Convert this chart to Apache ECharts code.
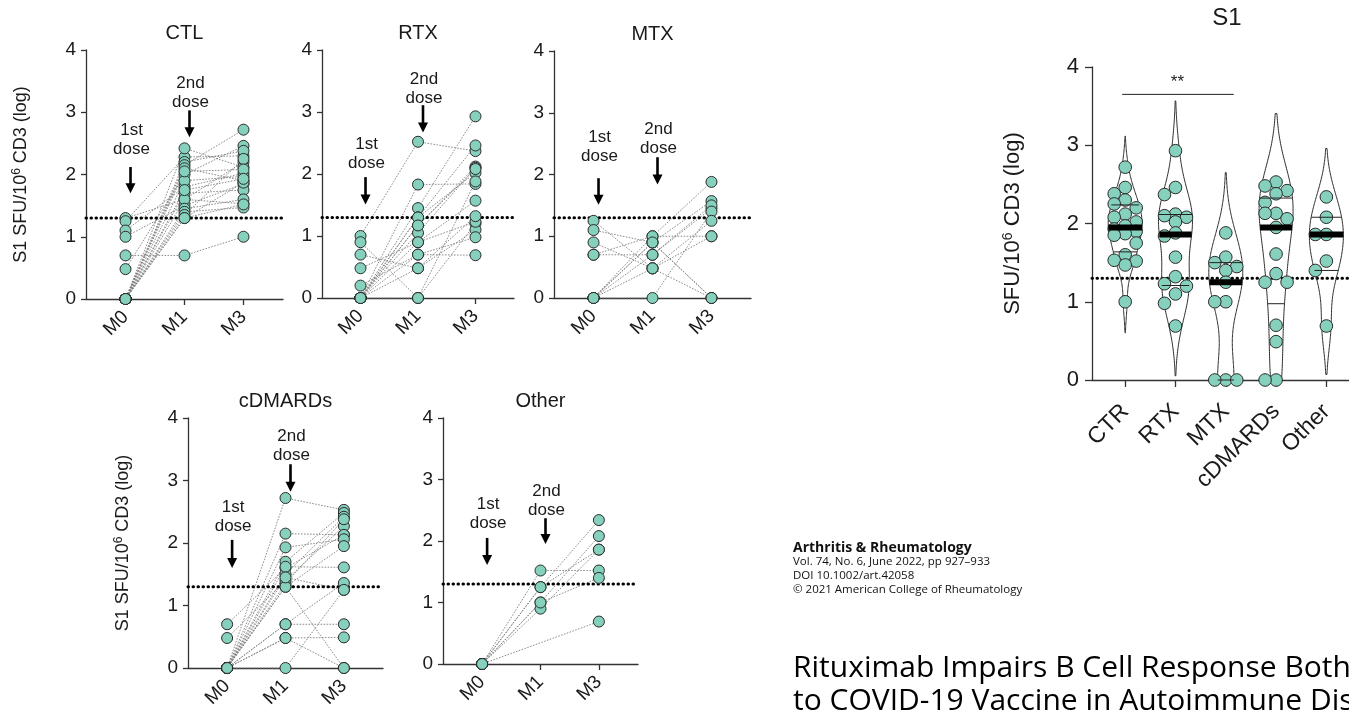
<!DOCTYPE html>
<html>
<head>
<meta charset="utf-8">
<title>S1 SFU/10^6 CD3</title>
<script src="https://cdn.jsdelivr.net/npm/echarts@6/dist/echarts.min.js"></script>
<style>
  html, body { margin: 0; padding: 0; background: #ffffff; }
  #chart { width: 1349px; height: 713px; }
</style>
</head>
<body>
<div id="chart"></div>
<script>
// ---- data: log10 S1 spot-forming units per 10^6 CD3 cells, one entry per subject ----
const timepoints = ['M0', 'M1', 'M3'];
const yTicks = [0, 1, 2, 3, 4];
const threshold = 1.3;

const ctlM0 = [1.3, 1.25, 1.1, 1.0, 0.7, 0.48, 0, 0, 0, 0, 0, 0, 0, 0, 0, 0, 0, 0, 0, 0];
const ctlM1 = [1.6, 2.28, 1.8, 1.5, 0.7, 2.0, 2.42, 2.2, 2.15, 2.1, 1.9, 1.7, 1.6, 1.45, 1.4, 1.35, 1.3, 1.3, 2.05, 1.75];
const ctlM3 = [2.2, 2.3, 2.02, 1.85, 1.0, 2.46, 2.12, 2.38, 2.72, 1.9, 1.97, 1.75, 1.53, 1.6, 1.47, 2.25, 1.87, 1.52, 2.08, 1.93];

const rtxM0 = [0, 1.0, 0.9, 0.7, 0.48, 0.2, 0, 0, 0, 0, 0, 0, 0, 0, 0, 0];
const rtxM1 = [1.45, 2.52, 0, 0.48, 0.9, 0.7, 1.83, 1.3, 1.17, 1.05, 0.9, 0.7, 1.3, 0.48, 1.17, 0];
const rtxM3 = [2.93, 2.37, 1.2, 1.1, 1.23, 0.98, 1.84, 2.46, 2.12, 2.1, 1.57, 0.69, 2.02, 1.32, 2.08, 1.88];

const mtxM0 = [1.25, 1.1, 0.9, 0.7, 0, 0, 0, 0, 0, 0.7, 0];
const mtxM1 = [0.48, 0.9, 0.48, 0.7, 1.0, 0.9, 0.7, 0, 0.48, 1.0, 0.9];
const mtxM3 = [0, 0, 1.0, 1.45, 1.88, 1.57, 1.5, 1.4, 1.25, 1.0, 0];

const cdmM0 = [0.7, 0.48, 0, 0, 0, 0, 0, 0, 0, 0, 0, 0, 0, 0, 0, 0, 0];
const cdmM1 = [1.6, 1.4, 2.72, 2.15, 1.93, 1.7, 1.5, 1.35, 1.3, 1.62, 1.3, 0.7, 0.48, 0, 0.7, 1.45, 0.48];
const cdmM3 = [2.13, 2.27, 2.53, 2.13, 2.06, 2.48, 2.42, 2.38, 0, 1.61, 1.95, 0.7, 0.49, 1.25, 1.36, 1.25, 0];

const othM0 = [0, 0, 0, 0, 0, 0, 0];
const othM1 = [1.52, 1.25, 1.0, 0.9, 1.0, 1.25, null];
const othM3 = [1.52, 2.34, 2.08, 1.86, 1.4, 1.86, 0.69];

// dose annotations: [timepoint index, label centre, arrow start, arrow tip]
const doseLabels = ['1st\ndose', '2nd\ndose'];
const ctlDoses = [[0, 2.55, 2.12, 1.70], [1, 3.31, 3.03, 2.60]];
const rtxDoses = [[0, 2.33, 1.95, 1.51], [1, 3.38, 3.11, 2.67]];
const mtxDoses = [[0, 2.45, 1.94, 1.51], [1, 2.57, 2.28, 1.84]];
const cdmDoses = [[0, 2.42, 2.05, 1.60], [1, 3.55, 3.26, 2.82]];
const othDoses = [[0, 2.45, 2.05, 1.61], [1, 2.65, 2.37, 1.95]];

// month-3 responses by treatment group
const violinGroups = ['CTR', 'RTX', 'MTX', 'cDMARDs', 'Other'];
const violinValues = [ctlM3, rtxM3, mtxM3, cdmM3, othM3];
const sigBracket = { from: 0, to: 2, level: 3.65, label: '**' };

// ---- look ----
const TEAL = '#85d1be';
const EDGE = '#2a2a2a';
const AXIS = '#333333';
const TXT = '#1a1a1a';
const FONT = '"Liberation Sans", Arial, sans-serif';

const panels = [
  { name: 'CTL', m0: ctlM0, m1: ctlM1, m3: ctlM3, doses: ctlDoses, left: 86, top: 50, width: 197, height: 249, yName: true },
  { name: 'RTX', m0: rtxM0, m1: rtxM1, m3: rtxM3, doses: rtxDoses, left: 322, top: 50, width: 192, height: 248 },
  { name: 'MTX', m0: mtxM0, m1: mtxM1, m3: mtxM3, doses: mtxDoses, left: 554, top: 51, width: 197, height: 247 },
  { name: 'cDMARDs', m0: cdmM0, m1: cdmM1, m3: cdmM3, doses: cdmDoses, left: 188, top: 418, width: 195, height: 250, yName: true },
  { name: 'Other', m0: othM0, m1: othM1, m3: othM3, doses: othDoses, left: 443, top: 418, width: 195, height: 246 }
];
const X_MIN = -0.67, X_MAX = 2.67;

const option = {
  animation: false,
  backgroundColor: '#ffffff',
  textStyle: { fontFamily: FONT },
  grid: [], xAxis: [], yAxis: [], series: [], graphic: []
};

function textStyle(text, font, align, vAlign, fill) {
  return { text: text, font: font, fill: fill || TXT,
           textAlign: align, textVerticalAlign: vAlign, align: align, verticalAlign: vAlign };
}

// threshold line across a grid
function thresholdSeries(gi, z) {
  return {
    type: 'custom', xAxisIndex: gi, yAxisIndex: gi, z: z, silent: true,
    data: [[0, threshold]],
    renderItem: function (params, api) {
      const cs = params.coordSys;
      const y = api.coord([0, threshold])[1];
      return { type: 'line', shape: { x1: cs.x, y1: y, x2: cs.x + cs.width, y2: y },
               style: { stroke: '#000', lineWidth: 3, lineDash: [0.5, 4.5], lineCap: 'round' } };
    }
  };
}

panels.forEach(function (p, gi) {
  option.grid.push({ left: p.left, top: p.top, width: p.width, height: p.height, containLabel: false });
  option.xAxis.push({
    type: 'value', gridIndex: gi, min: X_MIN, max: X_MAX,
    axisLine: { show: true, onZero: false, lineStyle: { color: AXIS, width: 1.3 } },
    axisTick: { show: true, customValues: [0, 1, 2], length: 6, lineStyle: { color: AXIS, width: 1.3 } },
    axisLabel: { customValues: [0, 1, 2], formatter: function (v) { return timepoints[Math.round(v)]; },
                 rotate: 45, fontSize: 19, color: TXT, margin: 15, fontFamily: FONT },
    splitLine: { show: false }
  });
  option.yAxis.push({
    type: 'value', gridIndex: gi, min: 0, max: 4, interval: 1,
    axisLine: { show: true, onZero: false, lineStyle: { color: AXIS, width: 1.3 } },
    axisTick: { show: true, length: 5, lineStyle: { color: AXIS, width: 1.3 } },
    axisLabel: { fontSize: 19, color: TXT, margin: 10, fontFamily: FONT,
                 formatter: function (v) { return yTicks.indexOf(v) >= 0 ? String(v) : ''; } },
    splitLine: { show: false },
    name: p.yName ? 'S1 SFU/10{sup|6} CD3 (log)' : '',
    nameLocation: 'middle', nameGap: 55,
    nameTextStyle: { fontSize: 18, color: TXT, fontFamily: FONT,
                     rich: { sup: { fontSize: 12, color: TXT, fontFamily: FONT, padding: [0, 0, 8, 0] } } }
  });

  // panel title centred over M1
  const m1x = p.left + (1 - X_MIN) * p.width / (X_MAX - X_MIN);
  option.graphic.push({ type: 'text', x: m1x, y: p.top - 17, silent: true,
                        style: textStyle(p.name, '20px ' + FONT, 'center', 'middle') });

  // dotted connectors per subject
  option.series.push({
    type: 'custom', xAxisIndex: gi, yAxisIndex: gi, z: 2, silent: true,
    data: p.m0.map(function (v, i) { return [0, v, i]; }),
    renderItem: function (params, api) {
      const i = params.dataIndex;
      const pts = [];
      [p.m0[i], p.m1[i], p.m3[i]].forEach(function (v, k) {
        if (v !== null && v !== undefined) pts.push(api.coord([k, v]));
      });
      return { type: 'polyline', shape: { points: pts },
               style: { stroke: '#808080', lineWidth: 0.9, lineDash: [1.6, 1.4], fill: null } };
    }
  });
  option.series.push(thresholdSeries(gi, 3));

  // subject values
  const pts = [];
  [p.m0, p.m1, p.m3].forEach(function (arr, k) {
    arr.forEach(function (v) { if (v !== null) pts.push([k, v]); });
  });
  option.series.push({
    type: 'scatter', xAxisIndex: gi, yAxisIndex: gi, z: 4, silent: true,
    symbolSize: 11, data: pts,
    itemStyle: { color: TEAL, borderColor: EDGE, borderWidth: 1, opacity: 1 }
  });

  // dose arrows
  option.series.push({
    type: 'custom', xAxisIndex: gi, yAxisIndex: gi, z: 5, silent: true,
    data: p.doses.map(function (d) { return [d[0], d[1]]; }),
    renderItem: function (params, api) {
      const d = p.doses[params.dataIndex];
      const lab = api.coord([d[0], d[1]]);
      const a0 = api.coord([d[0], d[2]]);
      const a1 = api.coord([d[0], d[3]]);
      const x = a0[0] + 5;
      return { type: 'group', children: [
        { type: 'text', x: lab[0] + 6, y: lab[1],
          style: Object.assign(textStyle(doseLabels[params.dataIndex], '17px ' + FONT, 'center', 'middle'), { lineHeight: 19 }) },
        { type: 'line', shape: { x1: x, y1: a0[1], x2: x, y2: a1[1] - 8 },
          style: { stroke: '#000', lineWidth: 2.6 } },
        { type: 'polygon', shape: { points: [[x - 5, a1[1] - 10], [x + 5, a1[1] - 10], [x, a1[1]]] },
          style: { fill: '#000' } }
      ] };
    }
  });
});

// ---- violin panel ----
function quantile(s, q) {
  const n = s.length, pos = q * (n + 1);
  if (pos <= 1) return s[0];
  if (pos >= n) return s[n - 1];
  const lo = Math.floor(pos), f = pos - lo;
  return s[lo - 1] + f * (s[lo] - s[lo - 1]);
}
function violinStats(vals) {
  const s = vals.slice().sort(function (a, b) { return a - b; });
  const n = s.length;
  const mean = s.reduce(function (a, b) { return a + b; }, 0) / n;
  const sd = Math.sqrt(s.reduce(function (a, b) { return a + (b - mean) * (b - mean); }, 0) / (n - 1));
  const q1 = quantile(s, 0.25), med = quantile(s, 0.5), q3 = quantile(s, 0.75);
  const spread = Math.min(sd, (q3 - q1) / 1.34) || sd;
  const h = 0.9 * spread * Math.pow(n, -0.2);
  const dens = function (y) {
    return s.reduce(function (a, v) { const u = (y - v) / h; return a + Math.exp(-0.5 * u * u); }, 0);
  };
  const lo = Math.max(0, s[0] - 2 * h), hi = s[n - 1] + 2 * h;
  const prof = [];
  let dmax = 0;
  for (let k = 0; k <= 160; k++) {
    const y = lo + (hi - lo) * k / 160;
    const d = dens(y);
    prof.push([y, d]);
    if (d > dmax) dmax = d;
  }
  return { vals: vals, q1: q1, med: med, q3: q3, prof: prof, dmax: dmax, dens: dens };
}
const vStats = violinValues.map(violinStats);

const VG = panels.length;
const VX_MIN = -0.66, VX_MAX = 4.45;
option.grid.push({ left: 1092, top: 67, width: 257, height: 313, containLabel: false });
option.xAxis.push({
  type: 'value', gridIndex: VG, min: VX_MIN, max: VX_MAX,
  axisLine: { show: true, onZero: false, lineStyle: { color: AXIS, width: 1.3 } },
  axisTick: { show: true, customValues: [0, 1, 2, 3, 4], length: 7, lineStyle: { color: AXIS, width: 1.3 } },
  axisLabel: { customValues: [0, 1, 2, 3, 4], formatter: function (v) { return violinGroups[Math.round(v)]; },
               rotate: 45, fontSize: 23, color: TXT, margin: 28, fontFamily: FONT },
  splitLine: { show: false }
});
option.yAxis.push({
  type: 'value', gridIndex: VG, min: 0, max: 4, interval: 1,
  axisLine: { show: true, onZero: false, lineStyle: { color: AXIS, width: 1.3 } },
  axisTick: { show: true, length: 7, lineStyle: { color: AXIS, width: 1.3 } },
  axisLabel: { fontSize: 22, color: TXT, margin: 13, fontFamily: FONT },
  splitLine: { show: false },
  name: 'SFU/10{sup|6} CD3 (log)', nameLocation: 'middle', nameGap: 67,
  nameTextStyle: { fontSize: 22, color: TXT, fontFamily: FONT,
                   rich: { sup: { fontSize: 14, color: TXT, fontFamily: FONT, padding: [0, 0, 10, 0] } } }
});
option.graphic.push({ type: 'text', x: 1227, y: 18, silent: true,
                      style: textStyle('S1', '24px ' + FONT, 'center', 'middle') });

option.series.push(thresholdSeries(VG, 1));

// significance bracket
option.series.push({
  type: 'custom', xAxisIndex: VG, yAxisIndex: VG, z: 2, silent: true,
  data: [[sigBracket.from, sigBracket.level]],
  renderItem: function (params, api) {
    const a = api.coord([sigBracket.from, sigBracket.level]);
    const b = api.coord([sigBracket.to, sigBracket.level]);
    return { type: 'group', children: [
      { type: 'line', shape: { x1: a[0] - 3, y1: a[1], x2: b[0] + 8, y2: b[1] }, style: { stroke: '#222', lineWidth: 1 } },
      { type: 'text', x: (a[0] + b[0]) / 2 + 2, y: a[1] - 12,
        style: textStyle(sigBracket.label, '17px ' + FONT, 'center', 'middle') }
    ] };
  }
});

// violins, swarm points, quartiles and medians
option.series.push({
  type: 'custom', xAxisIndex: VG, yAxisIndex: VG, z: 3, silent: true,
  data: violinGroups.map(function (g, i) { return [i, vStats[i].med]; }),
  renderItem: function (params, api) {
    const gi = params.dataIndex;
    const st = vStats[gi];
    const HALF = 17;
    const halfAt = function (y) { return st.dens(y) / st.dmax * HALF; };
    const left = st.prof.map(function (pd) {
      const c = api.coord([gi, pd[0]]); return [c[0] - pd[1] / st.dmax * HALF, c[1]];
    });
    const right = st.prof.map(function (pd) {
      const c = api.coord([gi, pd[0]]); return [c[0] + pd[1] / st.dmax * HALF, c[1]];
    }).reverse();
    const children = [{ type: 'polygon', shape: { points: left.concat(right) },
                        style: { fill: null, stroke: '#2b2b2b', lineWidth: 1 } }];

    // swarm layout: centre column plus one lane either side
    const order = st.vals.map(function (v, i) { return i; })
      .sort(function (a, b) { return st.vals[b] - st.vals[a]; });
    const placed = [];
    const STEP = 11, MIN_D = 10;
    const offs = [0, -1, 1];
    order.forEach(function (i) {
      const c = api.coord([gi, st.vals[i]]);
      let best = null, bestD = -1;
      for (let k = 0; k < offs.length; k++) {
        const x = c[0] + offs[k] * STEP;
        let dmin = Infinity;
        placed.forEach(function (q) { dmin = Math.min(dmin, Math.hypot(q[0] - x, q[1] - c[1])); });
        if (dmin >= MIN_D) { best = [x, c[1]]; break; }
        if (dmin > bestD) { bestD = dmin; best = [x, c[1]]; }
      }
      placed.push(best);
    });
    placed.forEach(function (q) {
      children.push({ type: 'circle', shape: { cx: q[0], cy: q[1], r: 6.3 },
                      style: { fill: TEAL, stroke: EDGE, lineWidth: 1 } });
    });

    [st.q1, st.q3].forEach(function (q) {
      const c = api.coord([gi, q]); const w = halfAt(q);
      children.push({ type: 'line', shape: { x1: c[0] - w, y1: c[1], x2: c[0] + w, y2: c[1] },
                      style: { stroke: '#222', lineWidth: 1 } });
    });
    const m = api.coord([gi, st.med]); const mw = halfAt(st.med);
    children.push({ type: 'line', shape: { x1: m[0] - mw, y1: m[1], x2: m[0] + mw, y2: m[1] },
                    style: { stroke: '#000', lineWidth: 6 } });
    return { type: 'group', children: children };
  }
});

// ---- article header ----
const SANS = '"Open Sans", "Noto Sans", sans-serif';
option.graphic.push(
  { type: 'text', left: 793, top: 541, silent: true, style: { text: 'Arthritis & Rheumatology', font: 'bold 14px ' + SANS, fill: '#111' } },
  { type: 'text', left: 793, top: 556, silent: true, style: { text: 'Vol. 74, No. 6, June 2022, pp 927\u2013933', font: '11.5px ' + SANS, fill: '#111' } },
  { type: 'text', left: 793, top: 570, silent: true, style: { text: 'DOI 10.1002/art.42058', font: '11.5px ' + SANS, fill: '#111' } },
  { type: 'text', left: 793, top: 584, silent: true, style: { text: '\u00a9 2021 American College of Rheumatology', font: '11.5px ' + SANS, fill: '#111' } },
  { type: 'text', left: 793, top: 653, silent: true, style: { text: 'Rituximab Impairs B Cell Response Both', font: '30px ' + SANS, fill: '#000' } },
  { type: 'text', left: 793, top: 686, silent: true, style: { text: 'to COVID-19 Vaccine in Autoimmune Diseases', font: '30px ' + SANS, fill: '#000' } }
);

const chart = echarts.init(document.getElementById('chart'), null, { renderer: 'canvas' });
chart.setOption(option);
</script>
</body>
</html>
